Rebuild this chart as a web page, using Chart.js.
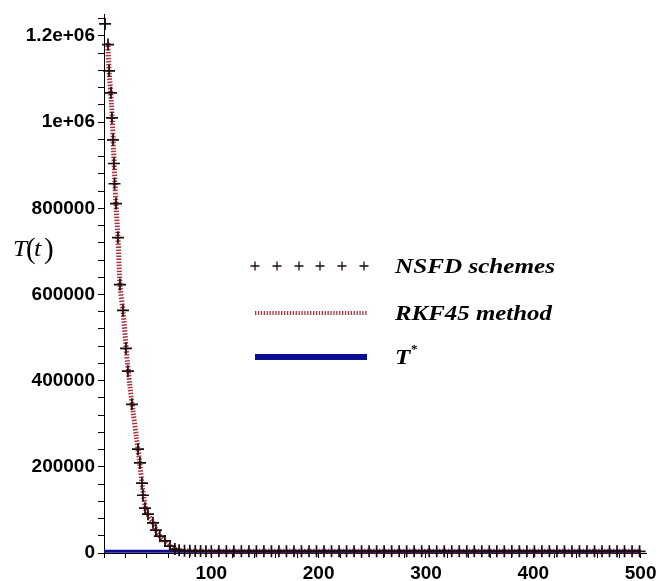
<!DOCTYPE html>
<html>
<head>
<meta charset="utf-8">
<script src="https://cdn.jsdelivr.net/npm/chart.js@4"></script>
<style>
  html, body { margin: 0; padding: 0; background: #fff; }
  canvas { display: block; }
</style>
</head>
<body>
<canvas id="chart" width="662" height="581"></canvas>
<script>
// ── Data ──────────────────────────────────
// NSFD scheme points (t, T)
const nsfdT = [1, 3.7, 4.7, 6.5, 7.4, 8.4, 9.3, 9.8, 11.2, 13, 14.9, 17.7, 20.5, 22.3, 26,
  31.7, 33.5, 35.4, 36.3, 38.2, 41, 45.6, 48.4, 52, 56.8, 61.5, 66,
  70, 75, 80, 85, 90, 95, 100, 107, 114, 121, 128, 135, 142, 149, 156, 163, 170, 177,
  184, 191, 198, 205, 212, 219, 226, 233, 240, 247, 254, 261, 268, 275, 282, 289, 296,
  303, 310, 317, 324, 331, 338, 345, 352, 359, 366, 373, 380, 387, 394, 401, 408, 415,
  422, 429, 436, 443, 450, 457, 464, 471, 478, 485, 492, 499];
const nsfdY = [1228000, 1180000, 1119000, 1068000, 1010000, 959000, 904000, 857000, 811000,
  732000, 623000, 563000, 475000, 422000, 345000, 241000, 209000, 162000, 134000, 104000,
  90000, 70000, 53000, 39000, 28000, 16000, 9000,
  6500, 5500, 5000, 4600, 4400, 4200, 4100, 4000, 4000, 4000, 4000, 4000, 4000, 4000, 4000,
  4000, 4000, 4000, 4000, 4000, 4000, 4000, 4000, 4000, 4000, 4000, 4000, 4000, 4000, 4000,
  4000, 4000, 4000, 4000, 4000, 4000, 4000, 4000, 4000, 4000, 4000, 4000, 4000, 4000, 4000,
  4000, 4000, 4000, 4000, 4000, 4000, 4000, 4000, 4000, 4000, 4000, 4000, 4000, 4000, 4000,
  4000, 4000, 4000, 4000];

// RKF45 solution curve (t, T)
const rkT = [3.5, 5, 7, 9, 11, 13, 15, 18, 21, 24, 27, 30, 33, 36, 39, 42, 46, 50, 55, 60,
  65, 70, 80, 100, 200, 300, 400, 500];
const rkY = [1184000, 1110000, 1040000, 930000, 815000, 732000, 620000, 555000, 465000,
  390000, 330000, 272000, 215000, 150000, 100000, 85000, 68000, 46000, 32000, 19000,
  10000, 6000, 4500, 4000, 4000, 4000, 4000, 4000];

// Equilibrium T*
const starT = [0, 500];
const starY = [4000, 4000];

// Axis labels
const xLabelVals = [100, 200, 300, 400, 500];
const yLabelVals = [0, 200000, 400000, 600000, 800000, 1000000, 1200000];
const yLabelText = ['0', '200000', '400000', '600000', '800000', '1e+06', '1.2e+06'];

const legendLabels = ['NSFD schemes', 'RKF45 method', 'T'];

// ── Colors ────────────────────────────────
const COL_CROSS = '#1c0c0e';
const COL_RK = '#a8323f';
const COL_STAR = '#0d0d93';

const toPts = (xs, ys) => xs.map((x, i) => ({ x, y: ys[i] }));

const tickFont = { family: "'Liberation Sans', Arial, sans-serif", size: 19, weight: 'bold' };

// ── Overlay: y-axis title and legend ──────
function stretchText(ctx, text, x, y, sx) {
  ctx.save();
  ctx.translate(x, y);
  ctx.scale(sx, 1);
  ctx.fillText(text, 0, 0);
  ctx.restore();
}

const overlay = {
  id: 'overlay',
  afterDraw(chart) {
    const ctx = chart.ctx;
    ctx.save();
    ctx.fillStyle = '#000';
    ctx.textBaseline = 'alphabetic';
    ctx.textAlign = 'left';

    // T(t)
    ctx.font = "italic 24px 'Liberation Serif', serif";
    stretchText(ctx, 'T', 13, 256, 1.05);
    stretchText(ctx, 't', 34, 256, 1.1);
    ctx.font = "29px 'Liberation Serif', serif";
    ctx.fillText('(', 26, 258);
    ctx.fillText(')', 44, 258);

    // legend samples
    ctx.strokeStyle = COL_CROSS;
    ctx.lineWidth = 1.3;
    [255, 277, 299, 320, 342, 364].forEach(cx => {
      ctx.beginPath();
      ctx.moveTo(cx - 4.5, 266); ctx.lineTo(cx + 4.5, 266);
      ctx.moveTo(cx, 261.5); ctx.lineTo(cx, 270.5);
      ctx.stroke();
    });

    ctx.strokeStyle = COL_RK;
    ctx.lineWidth = 4;
    ctx.setLineDash([1.3, 1.6]);
    ctx.beginPath();
    ctx.moveTo(255, 313); ctx.lineTo(367, 313);
    ctx.stroke();
    ctx.setLineDash([]);

    ctx.strokeStyle = COL_STAR;
    ctx.lineWidth = 6;
    ctx.beginPath();
    ctx.moveTo(255, 357); ctx.lineTo(367, 357);
    ctx.stroke();

    // legend texts
    ctx.font = "bold italic 20px 'Liberation Serif', serif";
    stretchText(ctx, legendLabels[0], 395, 273, 160 / ctx.measureText(legendLabels[0]).width);
    stretchText(ctx, legendLabels[1], 395, 320, 157 / ctx.measureText(legendLabels[1]).width);
    stretchText(ctx, legendLabels[2], 395, 364, 1.25);
    ctx.font = "bold 13px 'Liberation Serif', serif";
    ctx.fillText('*', 411, 353);

    ctx.restore();
  }
};

new Chart(document.getElementById('chart'), {
  type: 'scatter',
  data: {
    datasets: [
      {
        label: legendLabels[0],
        data: toPts(nsfdT, nsfdY),
        showLine: false,
        pointStyle: 'cross',
        pointRadius: 6,
        pointBorderWidth: 1.7,
        borderColor: COL_CROSS,
        backgroundColor: COL_CROSS,
        clip: false,
        order: 0,
      },
      {
        label: legendLabels[2],
        data: toPts(starT, starY),
        showLine: true,
        borderColor: COL_STAR,
        borderWidth: 3,
        pointRadius: 0,
        clip: false,
        order: 1,
      },
      {
        label: legendLabels[1],
        data: toPts(rkT, rkY),
        showLine: true,
        borderColor: COL_RK,
        borderWidth: 5,
        borderDash: [1.5, 1.5],
        pointRadius: 0,
        tension: 0.3,
        clip: false,
        order: 2,
      },
    ],
  },
  options: {
    responsive: false,
    animation: false,
    devicePixelRatio: 1,
    layout: { padding: { top: 13, right: 16, left: 0, bottom: 0 } },
    plugins: {
      legend: { display: false },
      tooltip: { enabled: false },
    },
    scales: {
      x: {
        type: 'linear',
        min: 0,
        max: 505,
        afterFit: s => { s.height = 28; },
        afterBuildTicks: s => {
          const t = [];
          for (let v = 0; v <= 500; v += 20) t.push({ value: v });
          s.ticks = t;
        },
        grid: { drawOnChartArea: false, drawTicks: true, tickLength: 5, color: '#000' },
        border: { color: '#000', width: 1 },
        ticks: {
          autoSkip: false,
          maxRotation: 0,
          padding: 4,
          color: '#000',
          font: tickFont,
          callback: v => (xLabelVals.includes(v) ? String(v) : ''),
        },
      },
      y: {
        type: 'linear',
        min: 0,
        max: 1250000,
        afterFit: s => { s.width = 104; },
        afterBuildTicks: s => {
          const t = [];
          for (let v = 0; v <= 1240000; v += 40000) t.push({ value: v });
          s.ticks = t;
        },
        grid: { drawOnChartArea: false, drawTicks: true, tickLength: 6, color: '#000' },
        border: { color: '#000', width: 1 },
        ticks: {
          autoSkip: false,
          padding: 3,
          color: '#000',
          font: tickFont,
          callback: v => {
            const i = yLabelVals.indexOf(v);
            return i >= 0 ? yLabelText[i] : '';
          },
        },
      },
    },
  },
  plugins: [overlay],
});
</script>
</body>
</html>
